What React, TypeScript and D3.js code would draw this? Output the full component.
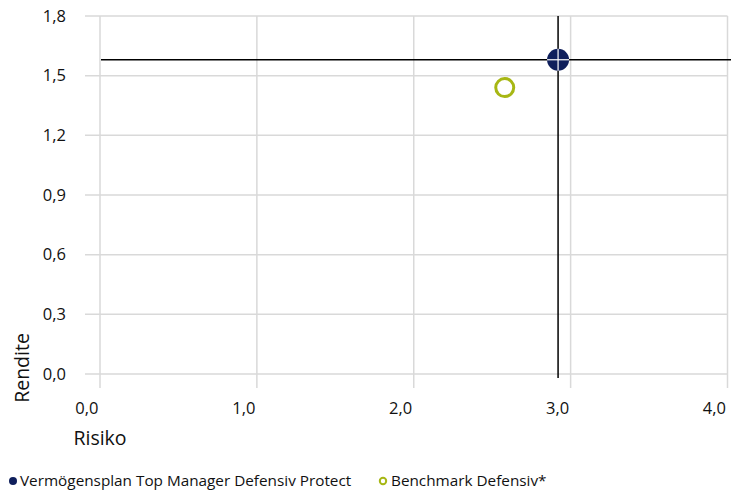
import React from "react";
import * as d3 from "d3";

const seriesNames = ["Vermögensplan Top Manager Defensiv Protect", "Benchmark Defensiv*"];
const risk = [2.92, 2.58];
const returns = [1.58, 1.44];
const xTicks = [0, 1, 2, 3, 4];
const yTicks = [0, 0.3, 0.6, 0.9, 1.2, 1.5, 1.8];

const W = 744, H = 493;
const fmt = (v: number) => v.toFixed(1).replace(".", ",");
const FONT = "'Open Sans', sans-serif";

export default function App() {
  const x = d3.scaleLinear().domain([0, 4]).range([100, 727.5]);
  const y = d3.scaleLinear().domain([0, 1.8]).range([374, 16]);
  const navy = "#0f1f5c";
  const green = "#a7b714";
  const grid = "#d9d9d9";
  return (
    <svg width={W} height={H} style={{ position: "absolute", left: 0, top: 0, background: "#fff" }} fontFamily={FONT}>
      {yTicks.map((t) => (
        <g key={"y" + t}>
          <line x1={85} x2={x(4)} y1={y(t)} y2={y(t)} stroke={grid} strokeWidth={1.5} />
          <text x={66} y={y(t)} dy="0.35em" textAnchor="end" fontSize={16.5} fill="#111">{fmt(t)}</text>
        </g>
      ))}
      {xTicks.map((t) => (
        <g key={"x" + t}>
          <line x1={x(t)} x2={x(t)} y1={y(1.8)} y2={388} stroke={grid} strokeWidth={1.5} />
          <text x={x(t) - 1.5} y={408} dy="0.35em" textAnchor="end" fontSize={16.5} fill="#111">{fmt(t)}</text>
        </g>
      ))}
      <text x={100} y={438} dy="0.35em" textAnchor="middle" fontSize={19.5} fill="#111">Risiko</text>
      <text transform={`translate(22,368) rotate(-90)`} dy="0.35em" textAnchor="middle" fontSize={19.5} fill="#111">Rendite</text>
      {/* crosshair lines for the portfolio */}
      <line x1={101} x2={731} y1={y(returns[0])} y2={y(returns[0])} stroke="#000" strokeWidth={1.5} />
      <line x1={x(risk[0])} x2={x(risk[0])} y1={16} y2={378} stroke="#000" strokeWidth={1.5} />
      <circle cx={x(risk[0])} cy={y(returns[0])} r={11} fill={navy} />
      <line x1={x(risk[0]) - 11} x2={x(risk[0]) + 11} y1={y(returns[0])} y2={y(returns[0])} stroke="#fff" strokeWidth={1.2} />
      <line x1={x(risk[0])} x2={x(risk[0])} y1={y(returns[0]) - 11} y2={y(returns[0]) + 11} stroke="#fff" strokeWidth={1.2} />
      <circle cx={x(risk[1])} cy={y(returns[1])} r={9} fill="#fff" stroke={green} strokeWidth={3} />
      {/* legend */}
      <circle cx={13} cy={481} r={4} fill={navy} />
      <text x={20} y={481} dy="0.35em" fontSize={15.3} fill="#111">{seriesNames[0]}</text>
      <circle cx={383} cy={481} r={3.2} fill="#fff" stroke={green} strokeWidth={2} />
      <text x={391} y={481} dy="0.35em" fontSize={15.3} fill="#111">{seriesNames[1]}</text>
    </svg>
  );
}
